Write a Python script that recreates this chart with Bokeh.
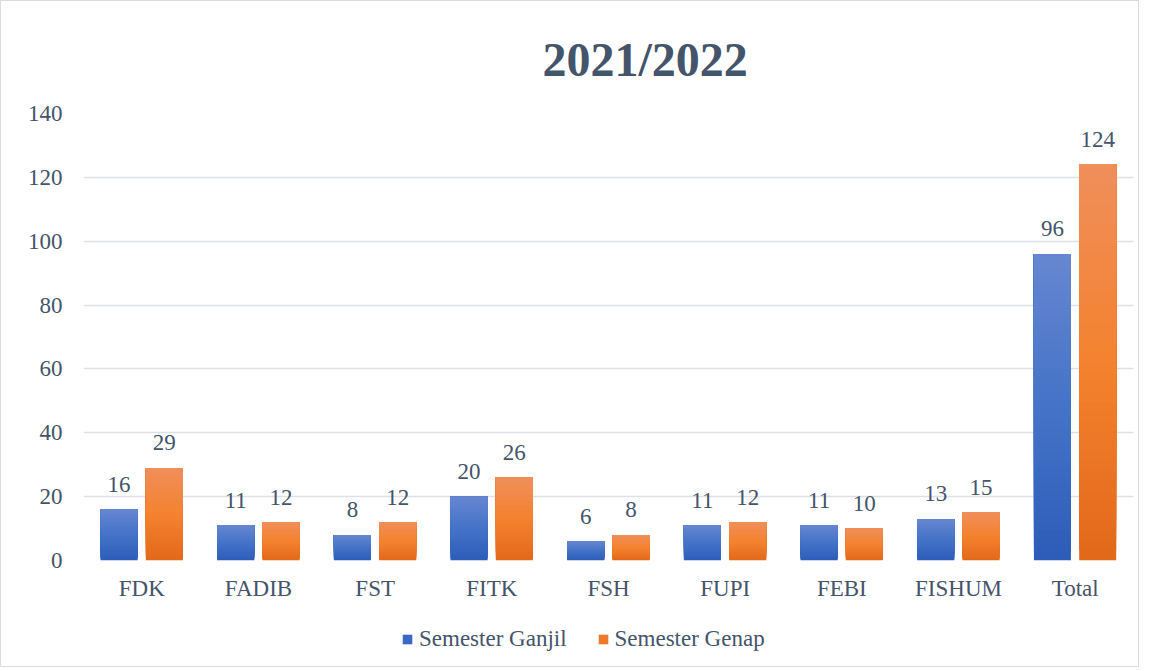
from bokeh.plotting import figure
from bokeh.layouts import column
from bokeh.models import (FactorRange, ColumnDataSource, FixedTicker, Title, Legend,
                          LegendItem)
from bokeh.core.properties import value
from bokeh.embed import file_html
from bokeh.resources import INLINE

categories = ["FDK", "FADIB", "FST", "FITK", "FSH", "FUPI", "FEBI", "FISHUM", "Total"]
ganjil = [16, 11, 8, 20, 6, 11, 11, 13, 96]
genap = [29, 12, 12, 26, 8, 12, 10, 15, 124]
series_names = ["Semester Ganjil", "Semester Genap"]
y_ticks = [0, 20, 40, 60, 80, 100, 120, 140]
title_text = "2021/2022"

FONT = "'Liberation Serif'"
TXT = "#44546A"

p = figure(x_range=FactorRange(*categories, range_padding=0, factor_padding=0),
           y_range=(0, 140), width=1137, height=610,
           output_backend="svg", toolbar_location=None,
           min_border_left=82, min_border_right=5, min_border_top=112,
           min_border_bottom=51)
p.outline_line_color = None

p.xgrid.grid_line_color = None
p.ygrid.grid_line_color = "#dde1e7"
p.ygrid.grid_line_width = 1.5
p.yaxis.ticker = FixedTicker(ticks=y_ticks)
for ax in (p.xaxis, p.yaxis):
    ax.axis_line_color = None
    ax.major_tick_line_color = None
    ax.minor_tick_line_color = None
    ax.major_label_text_font = FONT
    ax.major_label_text_font_size = "23px"
    ax.major_label_text_color = TXT
p.yaxis.major_label_standoff = 15
p.xaxis.major_label_standoff = 9


def hex2rgb(h):
    h = h.lstrip("#")
    return [int(h[i:i + 2], 16) for i in (0, 2, 4)]


def interp(stops, t):
    for (p0, c0), (p1, c1) in zip(stops, stops[1:]):
        if p0 <= t <= p1:
            f = (t - p0) / (p1 - p0) if p1 > p0 else 0
            a, b = hex2rgb(c0), hex2rgb(c1)
            return "#%02x%02x%02x" % tuple(int(round(a[i] + (b[i] - a[i]) * f)) for i in range(3))
    return stops[-1][1]


blue_stops = [(0, "#2e5db9"), (0.5, "#4473c7"), (1, "#6686d0")]
orange_stops = [(0, "#e2691a"), (0.5, "#f4822f"), (1, "#f08e5a")]
legend_colors = ["#3a68c2", "#ee7a2e"]

N = 40
width = 0.317
offsets = [-0.195, 0.193]
idx = {c: i for i, c in enumerate(categories)}
for vals, stops, off in zip([ganjil, genap], [blue_stops, orange_stops], offsets):
    xnum, bottoms, tops, cols = [], [], [], []
    for k in range(N):
        t = k / (N - 1)
        for c, v in zip(categories, vals):
            xnum.append(idx[c] + 0.5 + off)
            bottoms.append(v * k / N)
            tops.append(v)
            cols.append(interp(stops, t))
    src = ColumnDataSource(dict(x=xnum, bottom=bottoms, top=tops, color=cols))
    p.vbar(x="x", bottom="bottom", top="top", width=width, fill_color="color",
           line_color=None, source=src)
    lsrc = ColumnDataSource(dict(x=[idx[c] + 0.5 + off for c in categories], y=vals,
                                 t=[str(v) for v in vals]))
    p.text(x="x", y="y", text="t", source=lsrc, text_align="center",
           text_baseline="alphabetic", y_offset=-25,
           text_font=value(FONT), text_font_size="23px", text_color=TXT)

p.title = Title(text=title_text, align="left", offset=459, standoff=56,
                text_font=FONT, text_font_size="48px", text_font_style="bold",
                text_color=TXT)

# legend strip below the chart
q = figure(width=1137, height=55, x_range=(0, 1), y_range=(0, 1),
           output_backend="svg", toolbar_location=None, min_border=0)
q.axis.visible = False
q.grid.grid_line_color = None
q.outline_line_color = None
items = []
for name, col in zip(series_names, legend_colors):
    r = q.vbar(x=[-5], top=[-5], width=0.1, fill_color=col, line_color=None)
    items.append(LegendItem(label=name, renderers=[r]))
legend = Legend(items=items, orientation="horizontal", location=(318, 14),
                label_text_font=FONT, label_text_font_size="23px", label_text_color=TXT,
                glyph_width=12, glyph_height=12, spacing=30, label_standoff=6,
                border_line_color=None, background_fill_alpha=0, padding=4, margin=0)
q.add_layout(legend, "center")

layout = column(p, q, spacing=0)
layout.styles = {"border": "1px solid #d9dde3"}
open("out.html", "w").write(file_html(layout, INLINE))
